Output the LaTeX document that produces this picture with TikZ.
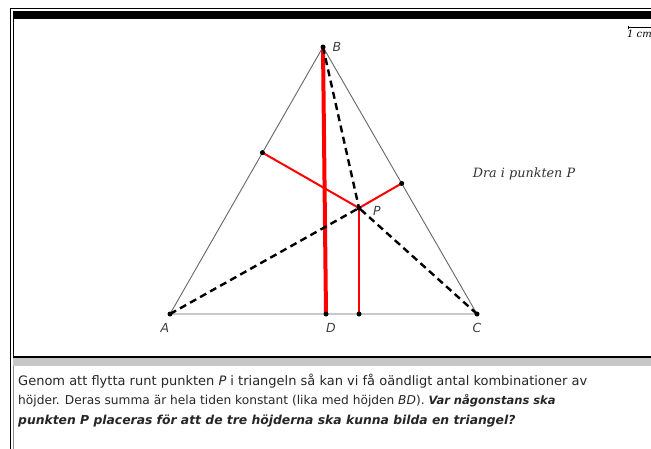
\documentclass[tikz,border=0pt]{standalone}
\usepackage{fontspec}
\setmainfont{DejaVu Sans}
\newfontfamily\serifit{DejaVu Serif}
\begin{document}
\begin{tikzpicture}[x=1pt,y=-1pt,
  dot/.style={circle,fill=black,inner sep=0pt,minimum size=5pt},
  lab/.style={font=\fontsize{12.5}{12.5}\selectfont\itshape,text=black!75,inner sep=0pt},
  side/.style={line width=0.9pt,draw=black!60},
  redthick/.style={line width=4pt,draw=red},
  redthin/.style={line width=2pt,draw=red},
  dash3/.style={line width=2.4pt,draw=black,dash pattern=on 7pt off 4.5pt},
  body/.style={font=\fontsize{13}{15}\selectfont,text=black!85,anchor=base west,inner sep=0pt}]
\newcommand{\bq}[2]{{\fontsize{#1}{15}\selectfont\bfseries\itshape #2}}
\useasboundingbox (0,0) rectangle (651,448);
\fill[white] (0,0) rectangle (651,448);
% frame
\draw[line width=1pt] (10,8.5) -- (662,8.5);
\draw[line width=1pt] (10,8.5) -- (10,450);
\fill[black] (12.5,11) rectangle (662,19);
\draw[line width=1.2pt] (13.5,19) -- (13.5,357) -- (662,357);
\fill[black!22] (13,358) rectangle (662,366);
\draw[line width=0.8pt,black!45] (13.5,366) -- (13.5,450);
% scale bar
\draw[line width=0.7pt] (628,27) -- (655,27);
\draw[line width=0.7pt] (628,25.5) -- (628,28.5);
\node[font=\serifit\itshape\fontsize{10}{10}\selectfont,anchor=base west,inner sep=0pt] (cm) at (627,37) {1 cm};
% points
\coordinate (A) at (170,314);
\coordinate (B) at (323,47);
\coordinate (C) at (477,314);
\coordinate (D) at (326,314);
\coordinate (P) at (359,208);
\coordinate (F1) at (262.4,152.6);
\coordinate (F2) at (401.7,183.4);
\coordinate (F3) at (359,314);
% triangle
\draw[side] (A) -- (B) -- (C) -- cycle;
% heights
\draw[redthick] (B) -- (D);
\draw[redthin] (P) -- (F1);
\draw[redthin] (P) -- (F2);
\draw[redthin] (P) -- (F3);
% dashed
\draw[dash3] (A) -- (P);
\draw[dash3] (B) -- (P);
\draw[dash3] (C) -- (P);
% dots
\foreach \p in {A,B,C,D,P,F1,F2,F3} \node[dot] (d\p) at (\p) {};
% labels
\node[lab] (lB) at (337,47) {B};
\node[lab] (lA) at (165,328) {A};
\node[lab] (lD) at (331,328) {D};
\node[lab] (lC) at (477,328) {C};
\node[lab] (lP) at (377,211) {P};
\node[font=\serifit\itshape\fontsize{12.8}{12.8}\selectfont,text=black!80,inner sep=0pt] (drag) at (524,174) {Dra i punkten P};
% text
\node[body] (t1) at (18,385) {Genom att flytta runt punkten \textit{P} i triangeln så kan vi få oändligt antal kombinationer av};
\node[body,font=\fontsize{12.2}{15}\selectfont] (t2) at (18,404.5) {höjder. Deras summa är hela tiden konstant (lika med höjden \textit{BD}). \bq{11.5}{Var någonstans ska}};
\node[body] (t3) at (18,424) {\bq{12.35}{punkten P placeras för att de tre höjderna ska kunna bilda en triangel?}};
\end{tikzpicture}
\end{document}
